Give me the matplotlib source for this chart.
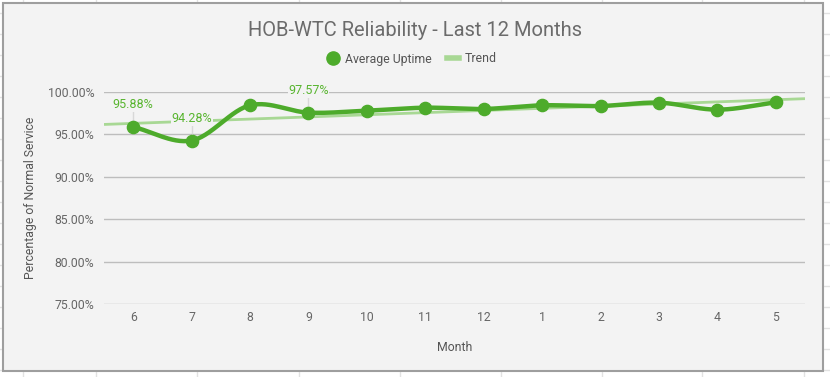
import numpy as np
import matplotlib
matplotlib.use("Agg")
import matplotlib.pyplot as plt
from matplotlib.lines import Line2D
from matplotlib.patches import Rectangle

plt.rcParams['font.family'] = ['Roboto', 'DejaVu Sans']

months = ["6", "7", "8", "9", "10", "11", "12", "1", "2", "3", "4", "5"]
uptime = [95.88, 94.28, 98.43, 97.57, 97.80, 98.15, 98.00, 98.43, 98.35, 98.74, 97.92, 98.78]
labeled = ["6", "7", "9"]
yticks = [75, 80, 85, 90, 95, 100]

W, H = 830, 377
fig = plt.figure(figsize=(W / 100, H / 100), dpi=100)
fig.patch.set_facecolor("white")

def fx(px):
    return px / W

def fy(py):
    return 1 - py / H

# spreadsheet gridlines behind the chart
gc = "#e2e2e2"
for x in [23, 96, 197, 299, 400, 501, 602, 702, 804]:
    fig.add_artist(Line2D([fx(x), fx(x)], [0, 1], color=gc, lw=1, zorder=0))
for y in range(13, 377, 21):
    fig.add_artist(Line2D([0, 1], [fy(y), fy(y)], color=gc, lw=1, zorder=0))

# chart box
fig.add_artist(Rectangle((fx(2.5), fy(371)), fx(823 - 2.5), (371 - 2.5) / H,
                         facecolor="#f3f3f3", edgecolor="#9e9e9e", lw=1.5, zorder=1))

ax = fig.add_axes([fx(104), fy(304), fx(805 - 104), 212 / H], zorder=2)
ax.set_facecolor("none")
xi = np.arange(len(months))
y = np.array(uptime)

# smooth curve (Catmull-Rom)
def catmull(xs, ys, n=30):
    px = np.concatenate([[2 * xs[0] - xs[1]], xs, [2 * xs[-1] - xs[-2]]])
    py = np.concatenate([[2 * ys[0] - ys[1]], ys, [2 * ys[-1] - ys[-2]]])
    ox, oy = [], []
    t = np.linspace(0, 1, n, endpoint=False)
    for i in range(1, len(px) - 2):
        for P, out in ((px, ox), (py, oy)):
            p0, p1, p2, p3 = P[i - 1], P[i], P[i + 1], P[i + 2]
            out.extend(0.5 * ((2 * p1) + (-p0 + p2) * t + (2 * p0 - 5 * p1 + 4 * p2 - p3) * t ** 2
                              + (-p0 + 3 * p1 - 3 * p2 + p3) * t ** 3))
    ox.append(xs[-1]); oy.append(ys[-1])
    return np.array(ox), np.array(oy)

line_c = "#4dab2b"
trend_c = "#a8d894"

coef = np.polyfit(xi, y, 1)
tx = np.array([-0.5, len(months) - 0.5])
ax.plot(tx, np.polyval(coef, tx), color=trend_c, lw=2, zorder=3, solid_capstyle="butt")

sx, sy = catmull(xi.astype(float), y)
ax.plot(sx, sy, color=line_c, lw=3.2, zorder=4, solid_capstyle="round")
ax.plot(xi, y, "o", color=line_c, ms=8.8, zorder=5, clip_on=False)

for m, v in zip(months, uptime):
    if m in labeled:
        i = months.index(m)
        ax.plot([i, i], [v + 0.6, v + 1.9], color="#d8d8d8", lw=1, zorder=2.5)
        ax.annotate(f"{v:.2f}%", (i, v), xytext=(0, 22), textcoords="offset pixels",
                    ha="center", va="center", color="#58b52f", fontsize=9, zorder=6,
                    bbox=dict(boxstyle="square,pad=0.05", fc="#f3f3f3", ec="none"))

ax.set_xlim(-0.5, len(months) - 0.5)
ax.set_ylim(75, 100)
ax.set_yticks(yticks)
ax.set_yticklabels([f"{v:.2f}%" for v in yticks])
ax.set_xticks(xi)
ax.set_xticklabels(months)
ax.grid(axis="y", color="#bdbdbd", lw=1, zorder=1)
ax.set_axisbelow(True)
for s in ax.spines.values():
    s.set_visible(False)
ax.tick_params(axis="both", length=0, colors="#666666", labelsize=8.8)
ax.tick_params(axis="y", pad=7)
ax.tick_params(axis="x", pad=5)

ax.set_xlabel("Month", color="#555555", fontsize=8.8, labelpad=12)
ax.set_ylabel("Percentage of Normal Service", color="#555555", fontsize=8.8, labelpad=8)

fig.text(0.5, fy(31), "HOB-WTC Reliability - Last 12 Months", ha="center", va="center",
         fontsize=14.5, color="#6b6b6b", zorder=3)

handles = [Line2D([], [], marker="o", color=line_c, ls="none", ms=9.5),
           Line2D([], [], color=trend_c, lw=4)]
leg = fig.legend(handles, ["Average Uptime", "Trend"], loc="center", bbox_to_anchor=(fx(412), fy(59)),
                 ncol=2, frameon=False, fontsize=8.8, handlelength=1.0, handletextpad=0.5,
                 columnspacing=1.2)
for t in leg.get_texts():
    t.set_color("#555555")
leg.set_zorder(3)

fig.savefig("out.png", dpi=100, facecolor="white")
